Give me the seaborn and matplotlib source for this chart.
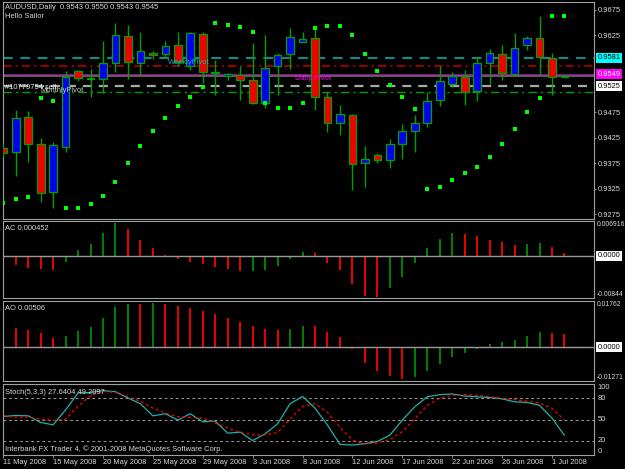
import numpy as np
import pandas as pd
import seaborn as sns
import matplotlib.pyplot as plt

# AUDUSD daily, 11 May - 2 Jul 2008 (the broker also prints Sunday bars)
days = ['11 May', '12 May', '13 May', '14 May', '15 May', '16 May', '18 May', '19 May',
        '20 May', '21 May', '22 May', '23 May', '25 May', '26 May', '27 May', '28 May',
        '29 May', '30 May', '1 Jun', '2 Jun', '3 Jun', '4 Jun', '5 Jun', '6 Jun',
        '8 Jun', '9 Jun', '10 Jun', '11 Jun', '12 Jun', '13 Jun', '15 Jun', '16 Jun',
        '17 Jun', '18 Jun', '19 Jun', '20 Jun', '22 Jun', '23 Jun', '24 Jun', '25 Jun',
        '26 Jun', '27 Jun', '29 Jun', '30 Jun', '1 Jul', '2 Jul']

open_ = [0.9405, 0.9397, 0.9465, 0.9412, 0.9319, 0.9407, 0.9555, 0.9541, 0.9539, 0.9570,
         0.9624, 0.9571, 0.9591, 0.9588, 0.9606, 0.9564, 0.9627, 0.9553, 0.9546, 0.9547,
         0.9538, 0.9493, 0.9564, 0.9588, 0.9612, 0.9619, 0.9505, 0.9453, 0.9469, 0.9375,
         0.9391, 0.9382, 0.9412, 0.9438, 0.9453, 0.9499, 0.9529, 0.9544, 0.9517, 0.9570,
         0.9588, 0.9549, 0.9606, 0.9619, 0.9580, 0.9543]
high = [0.9414, 0.9479, 0.9477, 0.9424, 0.9417, 0.9556, 0.9557, 0.9559, 0.9614, 0.9650,
        0.9645, 0.9632, 0.9595, 0.9614, 0.9631, 0.9632, 0.9632, 0.9577, 0.9551, 0.9564,
        0.9609, 0.9626, 0.9590, 0.9639, 0.9632, 0.9643, 0.9515, 0.9489, 0.9472, 0.9409,
        0.9394, 0.9422, 0.9452, 0.9469, 0.9515, 0.9564, 0.9554, 0.9557, 0.9582, 0.9598,
        0.9606, 0.9630, 0.9624, 0.9663, 0.9590, 0.9550]
low = [0.9388, 0.9350, 0.9377, 0.9300, 0.9287, 0.9397, 0.9536, 0.9505, 0.9515, 0.9554,
       0.9539, 0.9547, 0.9578, 0.9580, 0.9564, 0.9557, 0.9532, 0.9508, 0.9538, 0.9499,
       0.9491, 0.9482, 0.9508, 0.9560, 0.9612, 0.9478, 0.9436, 0.9430, 0.9323, 0.9329,
       0.9375, 0.9366, 0.9384, 0.9397, 0.9446, 0.9487, 0.9523, 0.9489, 0.9497, 0.9529,
       0.9538, 0.9547, 0.9596, 0.9547, 0.9508, 0.9543]
close = [0.9395, 0.9463, 0.9412, 0.9317, 0.9410, 0.9543, 0.9541, 0.9540, 0.9570, 0.9626,
         0.9572, 0.9595, 0.9586, 0.9604, 0.9573, 0.9629, 0.9554, 0.9552, 0.9549, 0.9538,
         0.9493, 0.9562, 0.9586, 0.9622, 0.9617, 0.9505, 0.9453, 0.9471, 0.9373, 0.9383,
         0.9381, 0.9412, 0.9438, 0.9454, 0.9497, 0.9536, 0.9546, 0.9515, 0.9570, 0.9590,
         0.9551, 0.9601, 0.9619, 0.9582, 0.9543, 0.9545]

# parabolic SAR dots
sar = [0.9298, 0.9304, 0.9309, 0.9503, 0.9497, 0.9287, 0.9287, 0.9295, 0.9311, 0.9338,
       0.9376, 0.9409, 0.9437, 0.9463, 0.9486, 0.9505, 0.9523, 0.9650, 0.9646, 0.9642,
       0.9632, 0.9492, 0.9482, 0.9482, 0.9492, 0.9639, 0.9643, 0.9643, 0.9626, 0.9588,
       0.9556, 0.9528, 0.9504, 0.9481, 0.9324, 0.9328, 0.9342, 0.9356, 0.9368, 0.9388,
       0.9412, 0.9442, 0.9475, 0.9502, 0.9663, 0.9663]

# accelerator / awesome oscillators
ac = [-0.0003, -0.00191, -0.00239, -0.00260, -0.00294, -0.00123, 0.00116, 0.00226, 0.00458, 0.00642,
      0.00526, 0.00308, 0.00150, 0.00014, -0.00075, -0.00123, -0.00157, -0.00226, -0.00260, -0.00300,
      -0.00298, -0.00280, -0.00205, -0.00075, 0.00068, 0.00048, -0.00137, -0.00294, -0.00567, -0.00806,
      -0.00820, -0.00636, -0.00431, -0.00137, 0.00150, 0.00342, 0.00458, 0.00424, 0.00390, 0.00321,
      0.00267, 0.00219, 0.00239, 0.00260, 0.00164, 0.000452]
ao = [0.0096, 0.00742, 0.00666, 0.00538, 0.00358, 0.00448, 0.00627, 0.00781, 0.01101, 0.01523,
      0.01660, 0.01648, 0.01670, 0.01638, 0.01587, 0.01485, 0.01395, 0.01280, 0.01126, 0.00973,
      0.00832, 0.00704, 0.00678, 0.00704, 0.00832, 0.00806, 0.00576, 0.00384, -0.00064, -0.00576,
      -0.00896, -0.01088, -0.01178, -0.01114, -0.00896, -0.00614, -0.00358, -0.00192, -0.00064, 0.00128,
      0.00218, 0.00294, 0.00448, 0.00602, 0.00563, 0.00506]
ac_range = [-0.00844, 0.006916]
ao_range = [-0.01271, 0.01762]

# stochastic (5,3,3)
stoch_main = [54.2, 55.7, 55.2, 45.8, 42.5, 63.7, 87.3, 88.2, 90.6, 89.2,
              80.3, 72.2, 55.2, 58.1, 49.2, 58.1, 46.7, 47.7, 30.8, 32.2,
              20.3, 29.8, 43.9, 72.2, 82.5, 66.0, 42.0, 15.0, 14.0, 16.0,
              19.0, 28.0, 49.0, 68.0, 82.0, 85.0, 86.0, 83.0, 82.0, 81.0,
              79.0, 75.0, 74.0, 70.0, 52.0, 27.6404]
stoch_signal = [55.2, 53.4, 53.4, 50.5, 48.6, 50.5, 68.4, 83.5, 89.6, 88.2,
                82.5, 75.5, 66.1, 59.1, 54.2, 52.8, 52.0, 44.9, 37.8, 32.2,
                28.4, 28.4, 31.6, 50.5, 68.4, 72.2, 60.0, 39.0, 21.0, 15.5,
                17.0, 22.0, 33.0, 51.0, 70.0, 80.0, 84.0, 85.0, 84.0, 82.0,
                80.0, 78.0, 76.0, 73.0, 66.0, 49.2097]
stoch_levels = [20, 50, 80]

# horizontal levels on the price chart
weekly_pivot = 0.9581
daily_pivot = 0.9549
monthly_pivot = 0.9525
bid = 0.9545
sell_price = 0.9514
stop_price = 0.9564

sns.set_theme(style='dark', rc={'figure.facecolor': 'black', 'axes.facecolor': 'black',
                                'axes.grid': False, 'lines.scale_dashes': False})
plt.rcParams['font.family'] = ['Liberation Sans', 'DejaVu Sans']
FS = 5.4
TXT = '#d8d8d8'
FRAME = '#a0a0a0'
WICK = '#00a000'

W, H = 625, 469
fig = plt.figure(figsize=(W / 100, H / 100), dpi=100)


def panel(top, bottom):
    return fig.add_axes([3 / W, 1 - bottom / H, 591 / W, (bottom - top) / H])


ax_p = panel(2, 219)
ax_ac = panel(221, 298)
ax_ao = panel(301, 381)
ax_st = panel(384, 455)

df = pd.DataFrame({'open': open_, 'high': high, 'low': low, 'close': close,
                   'sar': sar, 'ac': ac, 'ao': ao,
                   'k': stoch_main, 'd': stoch_signal})
df['x'] = np.arange(len(df))

# --- price chart ---
up = df['close'] >= df['open']
ax_p.vlines(df['x'], df['low'], df['high'], color=WICK, lw=1.0, zorder=3)
ax_p.bar(df['x'], (df['close'] - df['open']).abs(), bottom=df[['open', 'close']].min(axis=1),
         width=0.62, color=np.where(up, '#0000f0', '#f00000'), edgecolor=WICK,
         linewidth=0.9, zorder=4)
sns.scatterplot(data=df, x='x', y='sar', ax=ax_p, color='#00ff00', marker='s', s=5,
                linewidth=0, zorder=5)

ax_p.axhline(weekly_pivot, color='#108a8a', lw=1.5, ls=(0, (7, 5.5)), zorder=2)
ax_p.axhline(stop_price, color='#b00000', lw=1.2, ls=(0, (6, 3, 1.5, 3)), zorder=2)
ax_p.axhline(daily_pivot, color='#a800a8', lw=0.7, zorder=2)
ax_p.axhline(bid, color='#707070', lw=1.2, zorder=2)
ax_p.axhline(monthly_pivot, color='#a8a8a8', lw=1.6, ls=(0, (6.5, 5)), zorder=2)
ax_p.axhline(sell_price, color='#00a000', lw=1.0, ls=(0, (6, 3, 1.5, 3)), zorder=2)

ax_p.text(13.2, weekly_pivot - 0.0002, 'WeeklyPivot', color='#20b0b0', fontsize=FS,
          va='top', ha='left', zorder=6)
ax_p.text(23.4, daily_pivot - 0.0002, 'Daily Pivot', color='#ff00ff', fontsize=FS,
          va='top', ha='left', zorder=6)
ax_p.text(3.0, monthly_pivot - 0.0002, 'MonthlyPivot', color='#c8c8c8', fontsize=FS,
          va='top', ha='left', zorder=6)
ax_p.text(0.15, sell_price + 0.0002, '#10779754 sell', color='#e8e8e8', fontsize=FS,
          va='bottom', ha='left', zorder=6)

ax_p.set_ylim(0.92658, 0.96901)
boxes = [(weekly_pivot, '#00ffff', 'black'), (daily_pivot, '#ff00ff', 'white'),
         (monthly_pivot, 'white', 'black')]
ticks = [t for t in np.arange(0.9275, 0.9676, 0.005)
         if min(abs(t - b[0]) for b in boxes) > 0.0009]
ax_p.yaxis.tick_right()
ax_p.set_yticks(ticks)
ax_p.set_yticklabels([f'{t:.4f}' for t in ticks])
for lvl, fc, fg in boxes:
    ax_p.text(1.006, lvl, f'{lvl:.4f}', transform=ax_p.get_yaxis_transform(), ha='left',
              va='center', color=fg, fontsize=FS, clip_on=False,
              bbox=dict(boxstyle='square,pad=0.2', fc=fc, ec='none'))

# --- AC / AO ---
for ax, col, rng in [(ax_ac, 'ac', ac_range), (ax_ao, 'ao', ao_range)]:
    rising = df[col].diff() > 0
    ax.vlines(df['x'], 0, df[col], colors=np.where(rising, '#008c00', '#ff0000'), lw=1.3)
    ax.axhline(0, color='#9a9a9a', lw=1.0)
    ax.set_ylim(rng)
    ax.set_yticks([])
    tr = ax.get_yaxis_transform()
    ax.text(1.004, rng[1], f'{rng[1]:g}', transform=tr, ha='left', va='top', color=TXT,
            fontsize=4.9, clip_on=False)
    ax.text(1.004, rng[0], f'{rng[0]:g}', transform=tr, ha='left', va='bottom', color=TXT,
            fontsize=4.9, clip_on=False)
    ax.text(1.006, 0, '0.0000', transform=tr, ha='left', va='center', color='black',
            fontsize=FS, clip_on=False,
            bbox=dict(boxstyle='square,pad=0.2', fc='white', ec='none'))

# --- stochastic ---
for lvl in stoch_levels:
    ax_st.axhline(lvl, color='#9a9a9a', lw=0.7, ls=(0, (2, 2)))
sns.lineplot(data=df, x='x', y='k', ax=ax_st, color='#20b2aa', lw=0.9)
sns.lineplot(data=df, x='x', y='d', ax=ax_st, color='#ff0000', lw=0.9, ls=(0, (2, 2)))
ax_st.set_ylim(0, 100)
ax_st.set_yticks([])
tr = ax_st.get_yaxis_transform()
ax_st.text(1.006, 100, '100', transform=tr, ha='left', va='top', color=TXT, fontsize=FS,
           clip_on=False)
ax_st.text(1.006, 0, '0', transform=tr, ha='left', va='bottom', color=TXT, fontsize=FS,
           clip_on=False)
for lvl in stoch_levels:
    ax_st.text(1.006, lvl, str(lvl), transform=tr, ha='left', va='center', color=TXT,
               fontsize=FS, clip_on=False)

# common styling
for ax in [ax_p, ax_ac, ax_ao, ax_st]:
    ax.set_xlim(-0.02, 47.37)
    ax.set_xlabel('')
    ax.set_ylabel('')
    for sp in ax.spines.values():
        sp.set_visible(True)
        sp.set_color(FRAME)
        sp.set_linewidth(0.8)
    ax.tick_params(axis='y', colors=FRAME, labelcolor=TXT, labelsize=FS, length=1.5,
                   width=0.6, pad=1.5, right=True, left=False)
    if ax is not ax_st:
        ax.set_xticks([])

ax_st.set_xticks(df['x'][::4])
ax_st.set_xticklabels([d + ' 2008' for d in days[::4]], ha='left')
ax_st.tick_params(axis='x', colors=FRAME, labelcolor=TXT, labelsize=FS, length=2,
                  width=0.6, pad=1.0, bottom=True)

# window captions
fig.text(5 / W, 1 - 7.5 / H,
         f'AUDUSD,Daily  {open_[-1]:.4f} {high[-1]:.4f} {low[-1]:.4f} {close[-1]:.4f}',
         color=TXT, fontsize=FS, va='center')
fig.text(5 / W, 1 - 16 / H, 'Hello Sailor', color=TXT, fontsize=FS, va='center')
fig.text(5 / W, 1 - 228.5 / H, f'AC {ac[-1]:.6f}', color=TXT, fontsize=FS, va='center')
fig.text(5 / W, 1 - 308.5 / H, f'AO {ao[-1]:.5f}', color=TXT, fontsize=FS, va='center')
fig.text(5 / W, 1 - 392 / H, f'Stoch(5,3,3) {stoch_main[-1]:.4f} {stoch_signal[-1]:.4f}',
         color=TXT, fontsize=FS, va='center')
fig.text(5 / W, 1 - 449 / H, 'Interbank FX Trader 4, © 2001-2008 MetaQuotes Software Corp.',
         color=TXT, fontsize=FS, va='center')

fig.savefig('out.png', dpi=100, facecolor='black')
